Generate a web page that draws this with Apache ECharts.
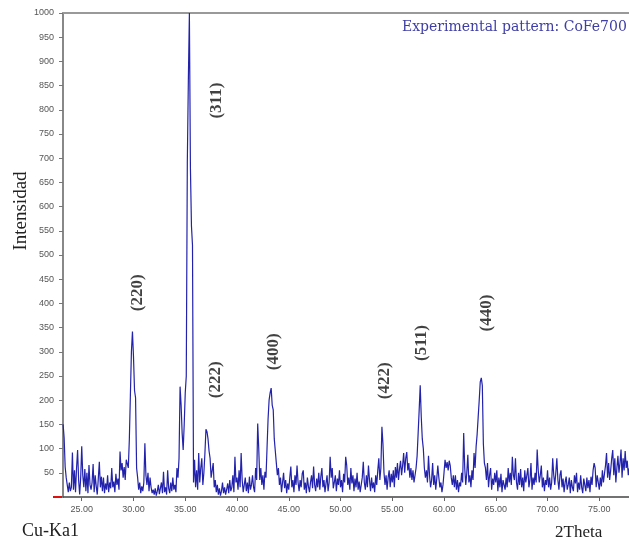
<!DOCTYPE html>
<html>
<head>
<meta charset="utf-8">
<script src="https://cdn.jsdelivr.net/npm/echarts@6/dist/echarts.min.js"></script>
<style>
  html, body { margin: 0; padding: 0; background: #fff; }
  #chart { width: 629px; height: 542px; }
</style>
</head>
<body>
<div id="chart"></div>
<script>
// scan grid of the pattern (2theta, degrees)
const angleStart = 23.2
const angleStep = 0.1

// counts, one row per degree (first row starts at 23.2)
const intensity = [
  150, 122, 62, 40, 25, 10, 30, 12,
  20, 92, 15, 55, 10, 60, 97, 35, 5, 40,
  105, 45, 20, 58, 12, 50, 8, 66, 25, 15,
  30, 68, 10, 45, 22, 5, 38, 73, 20, 42,
  12, 40, 8, 28, 15, 45, 10, 30, 18, 60,
  20, 32, 10, 48, 25, 38, 15, 94, 55, 70,
  40, 62, 35, 77, 80, 60, 120, 210, 300, 342,
  290, 220, 205, 60, 40, 15, 30, 8, 22, 12,
  30, 111, 45, 25, 50, 12, 40, 20, 8, 15,
  5, 18, 3, 12, 25, 6, 10, 30, 8, 52,
  10, 20, 5, 55, 18, 8, 30, 12, 40, 15,
  25, 10, 60, 40, 80, 228, 190, 132, 97, 150,
  215, 250, 690, 860, 1000, 680, 560, 520, 30, 77,
  20, 55, 15, 91, 30, 60, 80, 25, 50, 90,
  140, 135, 120, 95, 80, 40, 55, 70, 20, 35,
  10, 25, 5, 18, 3, 12, 30, 8, 20, 5,
  15, 28, 8, 35, 12, 20, 45, 10, 83, 30,
  40, 15, 55, 20, 91, 35, 10, 25, 40, 12,
  30, 8, 42, 15, 25, 45, 20, 10, 60, 35,
  152, 100, 35, 60, 25, 45, 15, 52, 40, 100,
  160, 200, 215, 225, 190, 180, 120, 95, 70, 45,
  60, 25, 40, 10, 30, 50, 18, 35, 8, 28,
  15, 40, 63, 20, 35, 10, 45, 25, 65, 30,
  12, 35, 20, 48, 55, 15, 30, 8, 40, 22,
  10, 30, 45, 18, 63, 25, 12, 38, 20, 50,
  15, 42, 60, 20, 35, 10, 28, 45, 12, 30,
  83, 40, 60, 18, 30, 45, 12, 38, 25, 55,
  20, 35, 10, 48, 30, 83, 65, 25, 40, 15,
  60, 28, 45, 12, 38, 20, 50, 15, 32, 10,
  25, 40, 73, 30, 15, 45, 20, 65, 35, 12,
  40, 18, 30, 10, 45, 25, 55, 80, 35, 60,
  145, 110, 50, 25, 45, 15, 40, 55, 20, 48,
  30, 55, 20, 62, 40, 70, 35, 58, 75, 45,
  65, 91, 50, 80, 93, 55, 70, 40, 60, 35,
  55, 30, 45, 60, 85, 132, 180, 231, 166, 120,
  100, 60, 40, 55, 30, 85, 45, 20, 35, 70,
  25, 45, 15, 38, 65, 40, 20, 30, 10, 25,
  50, 77, 60, 72, 55, 75, 65, 40, 25, 45,
  20, 45, 15, 35, 10, 30, 22, 50, 30, 132,
  60, 25, 50, 87, 30, 45, 20, 55, 35, 91,
  60, 104, 130, 165, 200, 238, 246, 230, 110, 70,
  60, 35, 70, 20, 45, 60, 15, 38, 25, 50,
  30, 55, 12, 40, 20, 48, 10, 35, 25, 15,
  40, 20, 60, 30, 50, 25, 83, 45, 35, 80,
  30, 15, 50, 25, 58, 20, 40, 12, 55, 30,
  45, 60, 20, 35, 70, 15, 40, 25, 50, 30,
  98, 55, 30, 45, 65, 20, 40, 12, 35, 25,
  55, 20, 40, 15, 30, 80, 45, 25, 50, 80,
  35, 15, 45, 55, 20, 38, 10, 30, 42, 15,
  25, 40, 8, 35, 20, 12, 45, 28, 50, 10,
  30, 15, 45, 20, 8, 38, 25, 12, 40, 18,
  35, 10, 42, 25, 55, 70, 60, 20, 45, 30,
  15, 40, 22, 55, 30, 48, 65, 91, 40, 70,
  35, 55, 80, 97, 45, 80, 30, 60, 85, 50,
  70, 98, 40, 80, 55, 95, 60, 75, 45, 60
]

// reflection labels and where they sit (angle, counts)
const millerLabels = ['(220)', '(311)', '(222)', '(400)', '(422)', '(511)', '(440)']
const millerAngle = [30.44, 38.07, 37.97, 43.58, 54.30, 57.88, 64.16]
const millerHeight = [422, 819, 242, 300, 240, 318, 380]

const xTicks = [25, 30, 35, 40, 45, 50, 55, 60, 65, 70, 75]
const xMin = 23.19
const xMax = 77.87
const yMax = 1000
const yStep = 50

const pattern = intensity.map((v, i) => [+(angleStart + i * angleStep).toFixed(2), v])
const miller = millerLabels.map((t, i) => ({ value: [millerAngle[i], millerHeight[i]], name: t }))

const chart = echarts.init(document.getElementById('chart'), null, { renderer: 'canvas' })

const serif = 'Liberation Serif'
const sans = 'Liberation Sans'

chart.setOption({
  animation: false,
  backgroundColor: '#fff',
  title: {
    text: 'Experimental pattern: CoFe700',
    left: 402,
    top: 20,
    padding: 0,
    textStyle: { fontFamily: 'DejaVu Serif', fontSize: 14, fontWeight: 'normal', color: '#3e3ea6' }
  },
  grid: { left: 63, right: 0, top: 13, bottom: 45 },
  xAxis: [{
    type: 'value',
    min: xMin,
    max: xMax,
    axisLine: { lineStyle: { color: '#444', width: 1.5 } },
    axisTick: { show: true, length: 4, customValues: xTicks, lineStyle: { color: '#666' } },
    axisLabel: {
      customValues: xTicks,
      formatter: v => v.toFixed(2),
      fontFamily: sans, fontSize: 9, color: '#555', margin: 8
    },
    splitLine: { show: false }
  }, {
    type: 'value',
    position: 'top',
    min: xMin,
    max: xMax,
    axisLine: { show: true, lineStyle: { color: '#999', width: 2 } },
    axisTick: { show: false },
    axisLabel: { show: false },
    splitLine: { show: false }
  }],
  yAxis: {
    type: 'value',
    min: 0,
    max: yMax,
    interval: yStep,
    axisLine: { show: true, lineStyle: { color: '#888', width: 2 } },
    axisTick: { show: true, length: 4, lineStyle: { color: '#777' } },
    axisLabel: {
      showMinLabel: false,
      formatter: v => String(v),
      fontFamily: sans, fontSize: 9, color: '#555', margin: 9
    },
    splitLine: { show: false }
  },
  series: [{
    type: 'line',
    data: pattern,
    symbol: 'none',
    sampling: 'none',
    lineStyle: { color: '#2222ac', width: 1.2 },
    z: 3
  }, {
    type: 'scatter',
    data: miller,
    symbolSize: 0,
    label: {
      show: true,
      formatter: p => p.name,
      position: 'inside',
      rotate: 90,
      align: 'center',
      verticalAlign: 'middle',
      fontFamily: serif,
      fontWeight: 'bold',
      fontSize: 17,
      color: '#111'
    },
    z: 4
  }]
})

// red zero marker, short axis name texts
const zero = chart.convertToPixel({ xAxisIndex: 0, yAxisIndex: 0 }, [xMin, 0])
chart.setOption({
  graphic: [
    {
      type: 'line',
      shape: { x1: zero[0] - 10, y1: zero[1], x2: zero[0] - 1, y2: zero[1] },
      style: { stroke: '#e01010', lineWidth: 2 }
    },
    {
      type: 'text', x: 21, y: 211, rotation: Math.PI / 2,
      style: { text: 'Intensidad', font: '19px "Liberation Serif"', fill: '#222', align: 'center', verticalAlign: 'middle' }
    },
    {
      type: 'text', x: 22, y: 531,
      style: { text: 'Cu-Ka1', font: '18px "Liberation Serif"', fill: '#222', verticalAlign: 'middle' }
    },
    {
      type: 'text', x: 555, y: 533,
      style: { text: '2Theta', font: '17px "Liberation Serif"', fill: '#222', verticalAlign: 'middle' }
    }
  ]
})
</script>
</body>
</html>
